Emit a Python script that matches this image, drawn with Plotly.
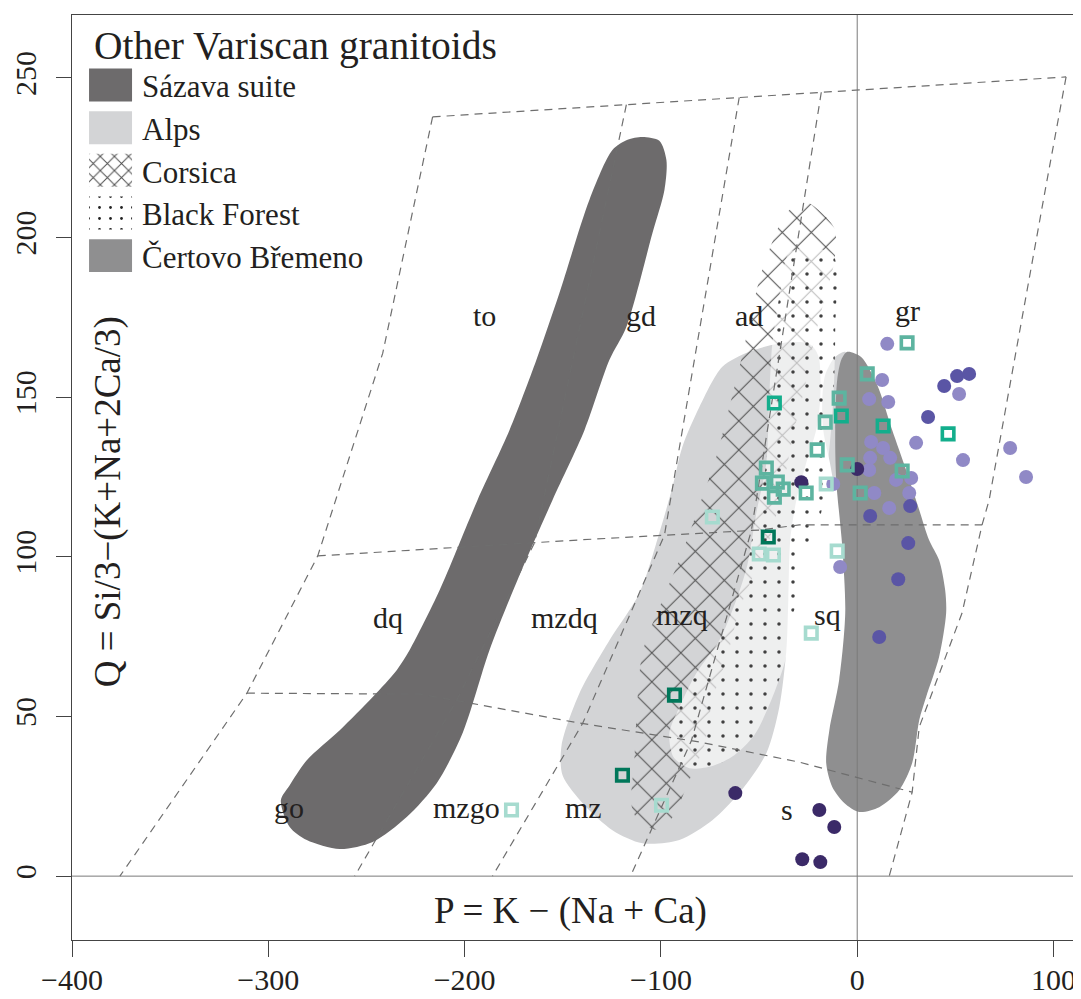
import plotly.graph_objects as go

# ------------------------------------------------------------------
# axes
# ------------------------------------------------------------------
P_RANGE = [-400, 114]
Q_RANGE = [-20, 269.7]
x_ticks = [-400, -300, -200, -100, 0, 100]
y_ticks = [0, 50, 100, 150, 200, 250]

# ------------------------------------------------------------------
# Debon & Le Fort P-Q field boundaries (dashed)
# ------------------------------------------------------------------
top_P = [-216.3, 106.4]
top_Q = [237.8, 250.3]
left_P = [-216.3, -241.7, -274.8, -310.9, -375.6]
left_Q = [237.8, 163.8, 100.3, 57.3, 0]
right_P = [106.4, 96.7, 67.2, 63.6, 53.4, 31.6, 28.0, 16.3]
right_Q = [250.3, 218.0, 117.8, 110.0, 82.4, 46.7, 26.3, 0]
mid_P = [-274.8, -141.5, -49.9, -29.5, 63.6]
mid_Q = [100.3, 105.3, 108.4, 110.0, 110.0]
low_P = [-310.9, -222.9, -202.5, -144.0, -80.4, -29.5, 28.0]
low_Q = [57.3, 57.0, 54.8, 48.2, 42.0, 35.7, 26.3]
l1_P = [-117.6, -164.4, -204.1, -256.0]
l1_Q = [241.6, 104.4, 55.0, 0]
l2_P = [-60.1, -98.2, -139.9, -185.8]
l2_Q = [243.9, 106.8, 47.8, 0]
l3_P = [-18.3, -53.9, -84.5, -115.5]
l3_Q = [245.5, 108.3, 42.4, 0]

field_names = ["to", "gd", "ad", "gr", "dq", "mzdq", "mzq", "sq", "go", "mzgo", "mz", "s"]
field_P = [-189.8, -109.9, -55.0, 25.4, -239.2, -149.1, -89.1, -15.3, -289.6, -199.0, -139.4, -35.6]
field_Q = [175.5, 175.5, 175.5, 177.0, 81.0, 81.0, 82.0, 82.0, 21.5, 21.5, 21.5, 21.0]

# ------------------------------------------------------------------
# comparison fields (outlines in P, Q)
# ------------------------------------------------------------------
sazava_P = [-109.4, -100.8, -97.2, -98.2, -104.3, -117.6, -126.2, -138.9, -155.2, -172.0,
            -187.3, -201.0, -214.2, -229.5, -246.8, -263.6, -280.4, -289.1, -293.6, -289.1,
            -280.4, -263.6, -246.8, -234.6, -228.0, -212.7, -193.4, -177.1, -163.4, -151.7,
            -136.4, -124.7, -117.0]
sazava_Q = [231.5, 230.3, 224.3, 214.9, 201.4, 172.0, 161.7, 139.7, 117.8, 94.3,
            70.8, 44.8, 29.1, 18.5, 10.7, 8.5, 11.3, 15.4, 23.8, 28.5,
            36.3, 45.7, 56.1, 64.5, 70.8, 89.6, 117.8, 139.7, 161.7, 182.6,
            211.8, 227.4, 230.6]

alps_P = [-38.2, -24.4, -19.8, -18.8, -20.9, -26.0, -31.0, -34.1, -35.1, -36.1,
          -39.7, -46.3, -60.1, -73.8, -90.6, -109.4, -124.7, -138.9, -150.1, -150.6,
          -141.5, -126.2, -110.9, -100.8, -94.1, -89.1, -80.4, -68.7, -55.0]
alps_Q = [167.0, 166.7, 162.9, 150.1, 139.7, 129.4, 117.8, 105.3, 86.5, 70.8,
          52.9, 38.5, 26.0, 17.5, 11.3, 10.3, 14.4, 22.2, 31.6, 41.0,
          57.3, 73.9, 88.7, 107.5, 121.9, 134.4, 146.9, 159.5, 164.2]

alps2_P = [-6.1, -11.7, -16.3, -17.8, -17.3, -14.2, -10.7, -6.6]
alps2_Q = [164.2, 162.3, 157.0, 149.1, 139.7, 130.3, 120.9, 136.6]

corsica_P = [-26.5, -11.7, -11.7, -16.8, -21.9, -27.0, -32.1, -38.2, -44.8, -53.9,
             -60.1, -66.7, -73.8, -77.9, -85.5, -92.1, -99.2, -110.9, -115.0, -113.5,
             -112.5, -109.4, -99.2, -90.6, -78.9, -71.8, -65.1, -58.5, -49.9, -44.8,
             -36.1]
corsica_Q = [211.2, 203.0, 192.4, 180.5, 167.9, 152.3, 139.7, 120.9, 105.3, 92.7,
             83.3, 67.7, 55.1, 41.0, 30.1, 20.7, 14.4, 16.9, 22.2, 36.3,
             48.9, 69.9, 86.5, 99.0, 118.7, 131.3, 146.9, 163.2, 186.7, 196.1,
             207.7]

blackforest_P = [-34.6, -23.4, -12.2, -11.2, -12.2, -15.3, -19.3, -26.5, -28.0, -33.6,
                 -36.6, -43.8, -52.4, -62.6, -73.8, -85.5, -93.6, -95.7, -90.6, -81.9,
                 -70.2, -61.6, -56.0, -51.4, -46.3, -44.8, -43.3, -39.7]
blackforest_Q = [195.2, 196.7, 194.5, 171.1, 149.1, 127.2, 111.5, 102.1, 91.2, 80.2,
                 67.7, 55.1, 44.2, 37.9, 34.5, 33.8, 37.3, 44.8, 52.9, 63.6,
                 73.9, 86.5, 97.4, 113.7, 129.4, 150.1, 166.4, 181.4]

certovo_P = [-5.1, 2.0, 10.2, 17.8, 24.9, 31.6, 36.6, 41.7, 44.8, 45.3,
             41.7, 35.1, 31.6, 28.0, 21.4, 11.2, 1.0, -6.6, -12.7, -15.8,
             -14.2, -9.2, -6.1, -7.6, -10.7, -11.2, -10.2, -8.1]
certovo_Q = [164.2, 162.6, 153.8, 139.7, 127.2, 114.7, 105.3, 99.0, 89.6, 82.4,
             68.6, 56.1, 48.9, 35.4, 26.9, 21.6, 20.1, 22.9, 27.9, 35.4,
             45.7, 61.4, 82.4, 103.1, 124.1, 139.7, 155.4, 161.7]

# ------------------------------------------------------------------
# samples
# ------------------------------------------------------------------
circ_dark_P = [0.0, -28.5, -62.1, -19.3, -11.7, -28.0, -18.8]
circ_dark_Q = [127.5, 123.4, 26.0, 20.7, 15.4, 5.3, 4.4]
circ_mid_P = [44.3, 50.9, 57.0, 36.1, 27.0, 6.6, 26.0, 20.9, 11.2]
circ_mid_Q = [153.5, 156.6, 157.3, 143.8, 115.9, 112.8, 104.3, 93.0, 74.9]
circ_light_P = [15.3, 12.7, 6.1, 15.8, 51.9, 30.0, 7.1, 13.2, 6.6, 16.8, 6.1, 27.5,
                19.8, 8.7, 26.5, 16.3, 53.9, 77.9, 86.0, -12.2, -8.7]
circ_light_Q = [166.7, 155.4, 149.4, 148.5, 151.0, 135.7, 136.0, 134.1, 131.0, 131.0, 127.2, 124.7,
                124.1, 120.0, 120.0, 115.3, 130.3, 134.1, 125.0, 122.8, 96.8]

sq_dark_P = [-45.3, -93.1, -119.6]
sq_dark_Q = [106.2, 56.7, 31.6]
sq_bright_P = [-42.2, -8.1, 13.2, 46.3]
sq_bright_Q = [148.2, 144.1, 141.0, 138.5]
sq_mid_P = [5.1, 25.4, -9.2, -16.3, -20.4, -5.1, -46.3, -48.3, -40.7, -37.7, -42.2, -26.0, 1.5, 22.9]
sq_mid_Q = [157.3, 167.0, 149.7, 142.2, 133.5, 128.8, 127.8, 123.1, 123.4, 121.2, 118.7, 120.0, 120.0, 126.9]
sq_light_P = [-15.8, -73.8, -49.9, -42.7, -10.2, -23.4, -99.7, -176.1]
sq_light_Q = [122.8, 112.5, 100.9, 100.6, 101.8, 76.1, 22.2, 20.7]

legend_names = ["Sázava suite", "Alps", "Corsica", "Black Forest", "Čertovo Břemeno"]

FONT = "Liberation Serif, Times New Roman, serif"
INK = "#231f20"
SAZAVA = "#6d6b6c"
ALPS = "#d3d4d6"
CERTOVO = "#8f8f90"
HATCH = "#505050"
DOTS = "#404040"
FOG = "rgba(255,255,255,0.62)"

fig = go.Figure()


def closed(a):
    return list(a) + [a[0]]


def add_field(P, Q, fillcolor, pattern=None, xaxis="x", yaxis="y", spline=True):
    fig.add_trace(go.Scatter(
        x=closed(P), y=closed(Q), mode="lines", fill="toself",
        fillcolor=fillcolor, fillpattern=pattern,
        line=dict(width=0, color="rgba(0,0,0,0)",
                  shape="spline" if spline else "linear", smoothing=0.8),
        xaxis=xaxis, yaxis=yaxis, hoverinfo="skip", showlegend=False,
    ))


corsica_pat = dict(shape="x", size=20.5, solidity=0.1, fgcolor=HATCH,
                   bgcolor="rgba(0,0,0,0)", fillmode="replace")
forest_pat = dict(shape=".", size=14, solidity=0.05, fgcolor=DOTS,
                  bgcolor=FOG, fillmode="replace")

add_field(sazava_P, sazava_Q, SAZAVA)
add_field(alps_P, alps_Q, ALPS)
add_field(alps2_P, alps2_Q, ALPS)
add_field(corsica_P, corsica_Q, "rgba(0,0,0,0)", corsica_pat)
add_field(blackforest_P, blackforest_Q, FOG, forest_pat)
add_field(certovo_P, certovo_Q, CERTOVO)

# zero lines
fig.add_trace(go.Scatter(x=[0, 0], y=Q_RANGE, mode="lines",
                         line=dict(color="#7a7a7a", width=1), hoverinfo="skip", showlegend=False))
fig.add_trace(go.Scatter(x=P_RANGE, y=[0, 0], mode="lines",
                         line=dict(color="#7a7a7a", width=1), hoverinfo="skip", showlegend=False))

# dashed field boundaries
for P, Q in [(top_P, top_Q), (left_P, left_Q), (right_P, right_Q), (mid_P, mid_Q),
             (low_P, low_Q), (l1_P, l1_Q), (l2_P, l2_Q), (l3_P, l3_Q)]:
    fig.add_trace(go.Scatter(x=P, y=Q, mode="lines",
                             line=dict(color="#6e6e6e", width=1.2, dash="8px,6px"),
                             hoverinfo="skip", showlegend=False))

# field names
for name, p, q in zip(field_names, field_P, field_Q):
    fig.add_annotation(x=p, y=q, text=name, showarrow=False,
                       xanchor="center", yanchor="middle",
                       font=dict(family=FONT, size=30, color=INK))

# samples
for P, Q, c in [(circ_light_P, circ_light_Q, "#9089c6"),
                (circ_mid_P, circ_mid_Q, "#5a55a5"),
                (circ_dark_P, circ_dark_Q, "#3b2a68")]:
    fig.add_trace(go.Scatter(x=P, y=Q, mode="markers",
                             marker=dict(symbol="circle", size=14, color=c, line=dict(width=0)),
                             hoverinfo="skip", showlegend=False))
for P, Q, c in [(sq_light_P, sq_light_Q, "#a6dbcf"),
                (sq_mid_P, sq_mid_Q, "#5db4a0"),
                (sq_bright_P, sq_bright_Q, "#13ae8c"),
                (sq_dark_P, sq_dark_Q, "#00775a")]:
    fig.add_trace(go.Scatter(x=P, y=Q, mode="markers",
                             marker=dict(symbol="square-open", size=11.5, color=c,
                                         line=dict(width=3.6, color=c)),
                             hoverinfo="skip", showlegend=False))

# ------------------------------------------------------------------
# hand-made legend (fractions of the plot area on an overlay axis)
# ------------------------------------------------------------------
leg_x0, leg_x1 = 0.0169, 0.0595
leg_top, leg_step, leg_half = 0.9243, 0.0461, 0.0178
leg_fill = [SAZAVA, ALPS, "white", "white", CERTOVO]
leg_pat = [None, None,
           dict(shape="x", size=10, solidity=0.19, fgcolor=HATCH, bgcolor="white", fillmode="replace"),
           dict(shape=".", size=11, solidity=0.05, fgcolor="#222222", bgcolor="white", fillmode="replace"),
           None]
for i, name in enumerate(legend_names):
    yc = leg_top - i * leg_step
    add_field([leg_x0, leg_x1, leg_x1, leg_x0], [yc - leg_half, yc - leg_half, yc + leg_half, yc + leg_half],
              leg_fill[i], leg_pat[i], xaxis="x2", yaxis="y2", spline=False)
    fig.add_annotation(xref="paper", yref="paper", x=0.0675, y=yc - 0.002, text=name,
                       xanchor="left", yanchor="middle", showarrow=False,
                       font=dict(family=FONT, size=31, color=INK))

fig.add_annotation(xref="paper", yref="paper", x=0.0195, y=0.967, text="Other Variscan granitoids",
                   xanchor="left", yanchor="middle", showarrow=False,
                   font=dict(family=FONT, size=39.5, color=INK))

# axis titles sit inside the frame
fig.add_annotation(xref="paper", yref="paper", x=0.4945, y=0.031, text="P = K − (Na + Ca)",
                   xanchor="center", yanchor="middle",
                   showarrow=False, font=dict(family=FONT, size=37, color=INK))
fig.add_annotation(xref="paper", yref="paper", x=0.036, y=0.4735, text="Q = Si/3−(K+Na+2Ca/3)",
                   xanchor="center", yanchor="middle",
                   textangle=-90, showarrow=False, font=dict(family=FONT, size=37, color=INK))

# the page body adds an 8 px offset, so the figure is 8 px smaller and margins shifted
fig.update_layout(
    width=1073, height=991,
    margin=dict(l=64, r=0, t=7, b=59, autoexpand=False),
    plot_bgcolor="white", paper_bgcolor="white",
    showlegend=False,
    xaxis=dict(range=P_RANGE, tickvals=x_ticks, ticktext=["−400", "−300", "−200", "−100", "0", "100"],
               showgrid=False, zeroline=False, showline=True, linecolor="#444", linewidth=1,
               mirror=True, ticks="outside", ticklen=16, tickcolor="#444", automargin=False,
               tickfont=dict(family=FONT, size=30, color=INK), ticklabelstandoff=-3),
    yaxis=dict(range=Q_RANGE, tickvals=y_ticks, showgrid=False, zeroline=False, automargin=False,
               showline=True, linecolor="#444", linewidth=1, ticks="outside", ticklen=15,
               tickcolor="#444", tickangle=-90,
               tickfont=dict(family=FONT, size=30, color=INK), ticklabelstandoff=8),
    xaxis2=dict(range=[0, 1], overlaying="x", visible=False, fixedrange=True),
    yaxis2=dict(range=[0, 1], overlaying="y", visible=False, fixedrange=True),
)

fig.write_html("out.html")
